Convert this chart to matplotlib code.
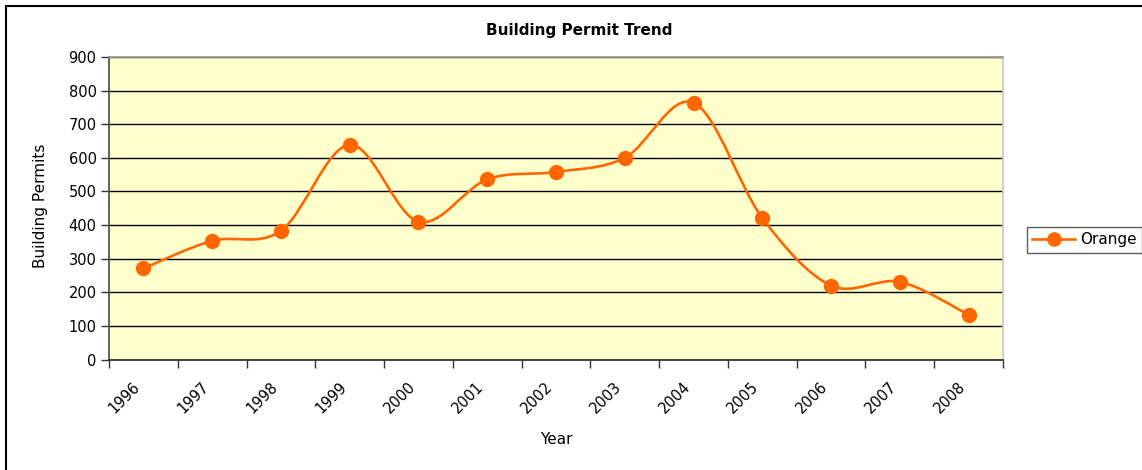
import numpy as np
import matplotlib
matplotlib.use("Agg")
import matplotlib.pyplot as plt
import matplotlib.transforms as mtransforms
from matplotlib.path import Path
from matplotlib.patches import PathPatch, Rectangle
from matplotlib.lines import Line2D

plt.rcParams['font.family'] = ['DejaVu Sans']

# data
years = ['1996', '1997', '1998', '1999', '2000', '2001', '2002',
         '2003', '2004', '2005', '2006', '2007', '2008']
permits = [271, 353, 383, 639, 410, 536, 558, 600, 764, 421, 220, 231, 133]
series_name = 'Orange'

orange = '#FF6600'

fig = plt.figure(figsize=(11.42, 4.70), dpi=100)
ax = fig.add_axes([109/1142, 1 - 359.5/470, (1003 - 109)/1142, (359.5 - 57)/470])
ax.set_facecolor('#FFFFCC')

x = np.arange(len(years), dtype=float)
y = np.array(permits, dtype=float)

# smoothed line, bezier segments like a spreadsheet "smoothed line"
xp = np.concatenate([[x[0]], x, [x[-1]]])
yp = np.concatenate([[y[0]], y, [y[-1]]])
verts = [(x[0], y[0])]
codes = [Path.MOVETO]
for i in range(1, len(xp) - 2):
    c1 = (xp[i] + (xp[i+1] - xp[i-1]) / 6, yp[i] + (yp[i+1] - yp[i-1]) / 6)
    c2 = (xp[i+1] - (xp[i+2] - xp[i]) / 6, yp[i+1] - (yp[i+2] - yp[i]) / 6)
    verts += [c1, c2, (xp[i+1], yp[i+1])]
    codes += [Path.CURVE4] * 3
ax.add_patch(PathPatch(Path(verts, codes), facecolor='none', edgecolor=orange,
                       lw=1.9, zorder=3, capstyle='round'))
ax.plot(x, y, linestyle='none', marker='o', markersize=10, color=orange, zorder=4)

ax.set_xlim(-0.5, len(years) - 0.5)
ax.set_ylim(0, 900)
ax.set_yticks(np.arange(0, 901, 100))
ax.yaxis.grid(True, color='black', lw=1.0)
ax.set_axisbelow(True)

ax.set_xticks(x)
ax.set_xticklabels(years, rotation=45, ha='right', va='top', rotation_mode='anchor',
                   fontsize=10.5)
ax.tick_params(axis='x', which='major', length=0, pad=14)
shift = mtransforms.ScaledTranslation(-11/100, 0, fig.dpi_scale_trans)
for lab in ax.get_xticklabels():
    lab.set_transform(lab.get_transform() + shift)
ax.set_xticks(np.arange(-0.5, len(years)), minor=True)
ax.tick_params(axis='x', which='minor', length=6, width=1, color='#333333', direction='out')
ax.tick_params(axis='y', length=6, width=1, color='#333333', labelsize=10.5, pad=3)

ax.spines['left'].set_color('#555555')
ax.spines['bottom'].set_color('#333333')
ax.spines['top'].set_color('#999999')
ax.spines['right'].set_color('#CCCCCC')
for s in ax.spines.values():
    s.set_linewidth(1.3)

fig.text(579/1142, 1 - 30/470, 'Building Permit Trend', ha='center', va='center',
         fontsize=11, fontweight='bold')
fig.text(40/1142, 1 - 206/470, 'Building Permits', ha='center', va='center',
         rotation=90, fontsize=11)
fig.text(556/1142, 1 - 440/470, 'Year', ha='center', va='center', fontsize=11)

handle = Line2D([], [], color=orange, lw=1.9, marker='o', markersize=9.5)
leg = fig.legend([handle], [series_name], loc='center left',
                 bbox_to_anchor=(1027/1142, 1 - 240/470), borderaxespad=0,
                 fontsize=11, handlelength=2.8, handletextpad=0.3, borderpad=0.35,
                 fancybox=False, frameon=True)
leg.get_frame().set_edgecolor('#333333')
leg.get_frame().set_linewidth(1.0)

fig.patches.append(Rectangle((6/1142, -0.1), 1.2, 1.1 - 5.5/470, transform=fig.transFigure,
                             fill=False, edgecolor='black', lw=1.5))

fig.savefig('out.png', dpi=100)
